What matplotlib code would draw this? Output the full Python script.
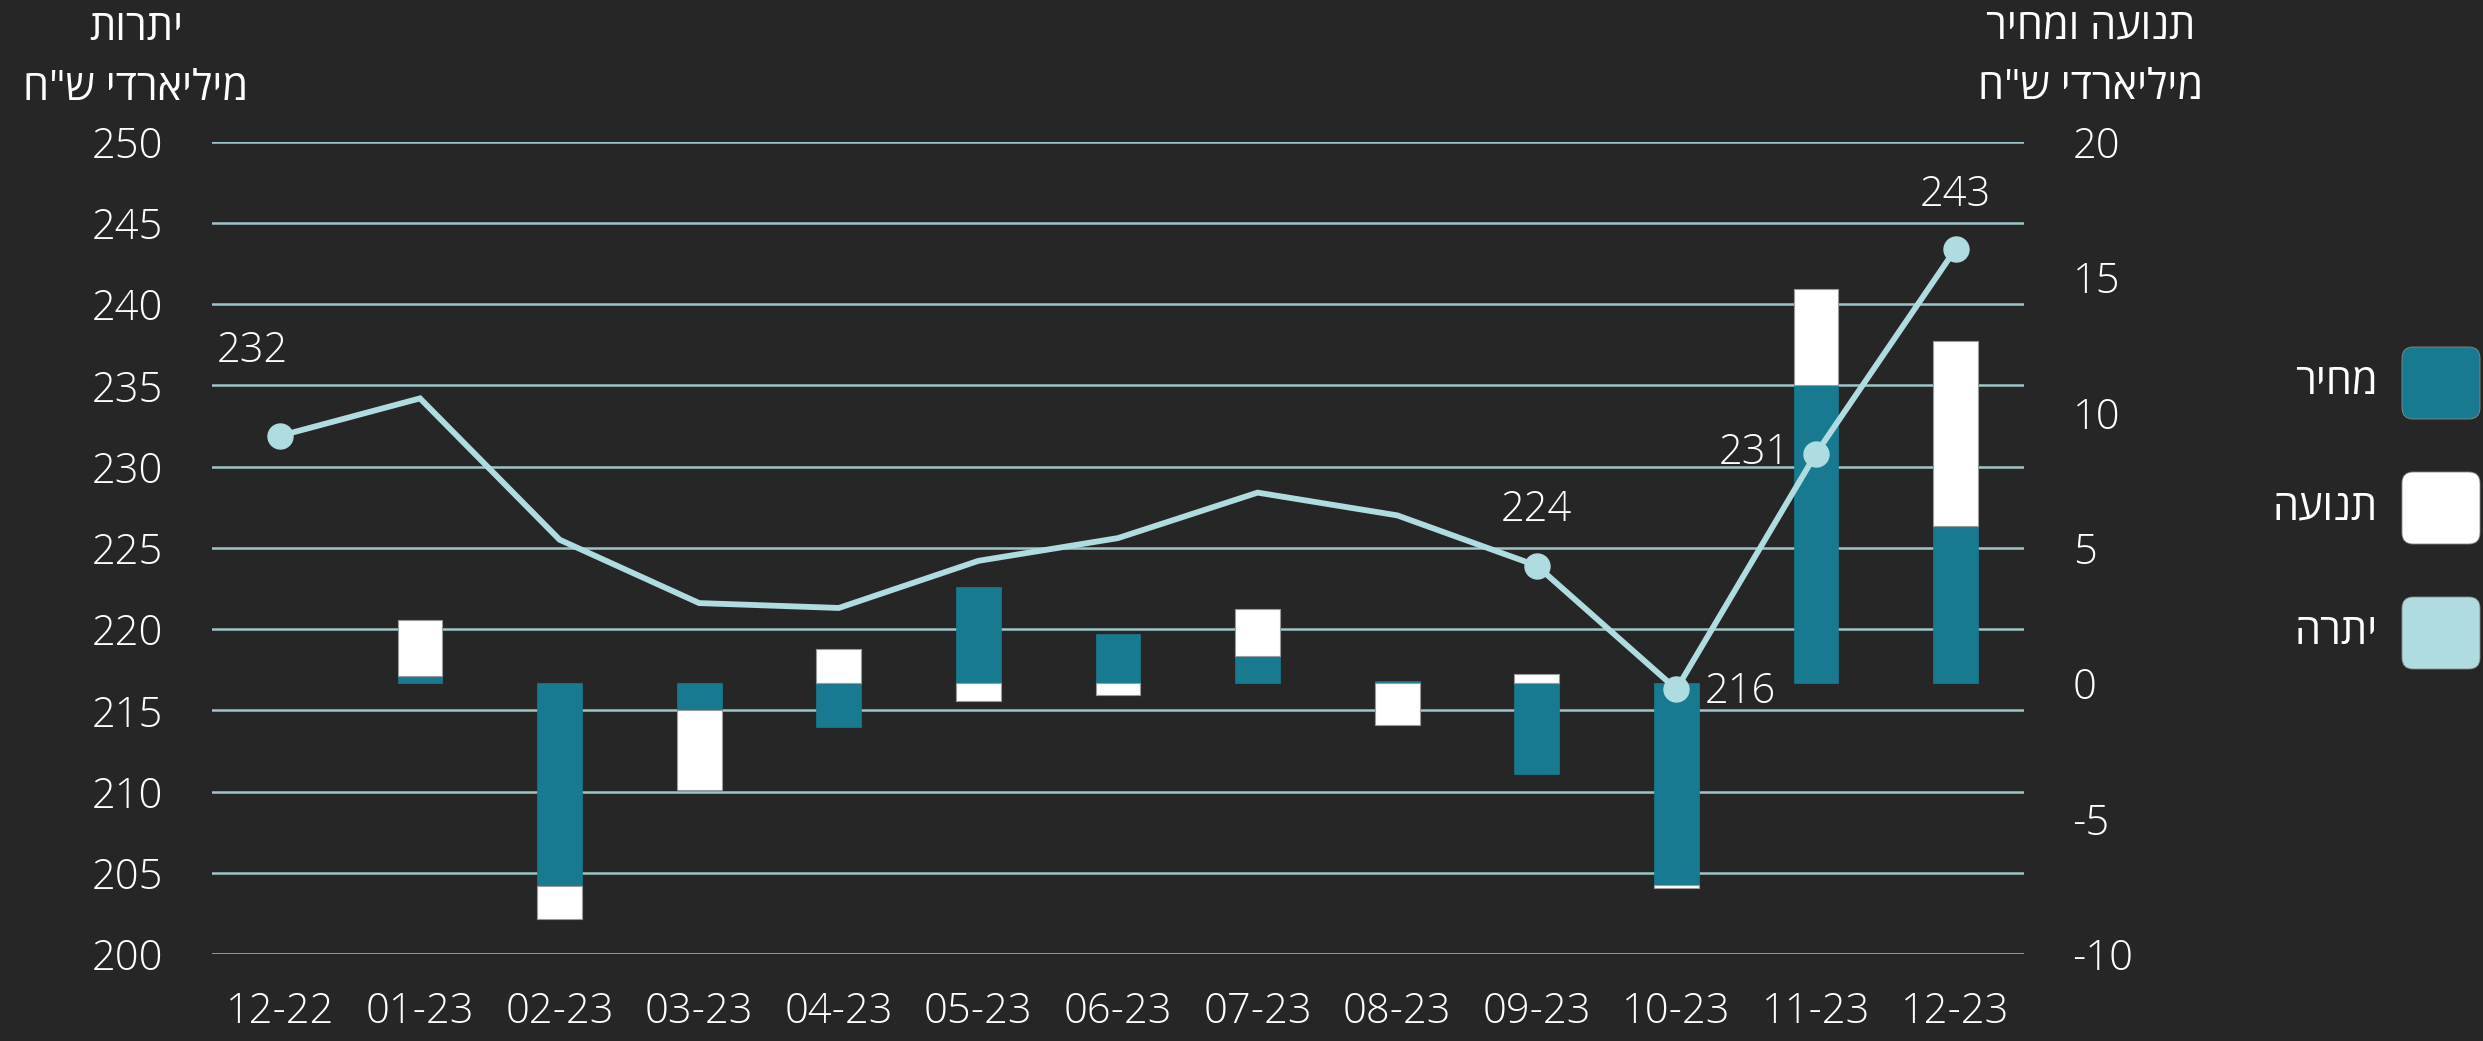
"""יתרות, תנועה ומחיר - גרף חודשי 12-22 עד 12-23."""

import matplotlib
import numpy as np

matplotlib.use("Agg")
import matplotlib.pyplot as plt  # noqa: E402
from matplotlib.patches import FancyBboxPatch  # noqa: E402

# --- data (billion NIS) ---
months = ["12-22", "01-23", "02-23", "03-23", "04-23", "05-23", "06-23",
          "07-23", "08-23", "09-23", "10-23", "11-23", "12-23"]
balance = [231.9, 234.2, 225.5, 221.6, 221.3, 224.2, 225.6,
           228.4, 227.0, 223.9, 216.3, 230.8, 243.4]
# first month has no change bar
price = [np.nan, 0.25, -7.5, -1.0, -1.6, 3.55, 1.8,
         1.0, 0.07, -3.37, -7.44, 11.0, 5.8]
movement = [np.nan, 2.1, -1.2, -2.95, 1.25, -0.65, -0.42,
            1.75, -1.53, 0.34, -0.13, 3.55, 6.85]
labeled = [0, 9, 10, 11, 12]

left_title = ["יתרות", 'מיליארדי ש"ח']
right_title = ["תנועה ומחיר", 'מיליארדי ש"ח']
legend_names = ["מחיר", "תנועה", "יתרה"]

# --- style ---
BG = "#262626"
TEAL = "#177a90"
WHITE = "#ffffff"
LIGHT = "#afdce0"
GRID = "#9ec5c9"
FONT = ["Open Sans", "DejaVu Sans"]
FS = 30

# label offsets in pixels (dx, dy) relative to the point
LABEL_OFFSETS = {0: (-28, 85), 9: (0, 56), 10: (64, -3), 11: (-62, 1), 12: (0, 54)}

plt.rcParams["font.family"] = FONT
plt.rcParams["axes.unicode_minus"] = False


def rtl(s: str) -> str:
    # matplotlib draws left-to-right; reverse Hebrew for visual order
    return s[::-1]


fig = plt.figure(figsize=(24.83, 10.41), dpi=100, facecolor=BG)
ax = fig.add_axes([212 / 2483, 87 / 1041, (2024 - 212) / 2483, (954 - 141.7) / 1041])
ax.set_facecolor(BG)
ax2 = ax.twinx()
ax2.patch.set_visible(False)

x = np.arange(len(months))
p = np.array(price)
m = np.array(movement)
same_sign = np.sign(p) == np.sign(m)
m_bottom = np.where(same_sign, p, 0.0)

ax.set_ylim(200, 250)
ax2.set_ylim(-10, 20)
ax.set_xlim(-0.49, len(months) - 0.51)

ax.set_yticks(np.arange(200, 251, 5))
ax2.set_yticks(np.arange(-10, 21, 5))
ax.grid(axis="y", color=GRID, linewidth=1.8)
ax.set_axisbelow(True)

bw = 0.32
ax2.bar(x[1:], p[1:], width=bw, color=TEAL, edgecolor=TEAL, linewidth=0.5, zorder=2)
ax2.bar(x[1:], m[1:], bottom=m_bottom[1:], width=bw, color=WHITE,
        edgecolor="#9a9a9a", linewidth=0.8, zorder=2)

# balance line on the left scale, drawn above the bars
ax2.plot(x, balance, color=LIGHT, linewidth=4.2, transform=ax.transData, zorder=3,
         solid_joinstyle="miter")
ax2.plot(x[labeled], np.array(balance)[labeled], "o", color=LIGHT, markersize=18,
         transform=ax.transData, zorder=4)
for i in labeled:
    dx, dy = LABEL_OFFSETS[i]
    ax2.annotate(f"{balance[i]:.0f}", xy=(x[i], balance[i]), xycoords=ax.transData,
                 xytext=(dx, dy), textcoords="offset pixels", ha="center", va="center",
                 color="white", fontsize=FS, fontweight="light", zorder=5)

ax.set_xticks(x)
ax.set_xticklabels(months)
for a in (ax, ax2):
    for s in a.spines.values():
        s.set_visible(False)
    a.tick_params(length=0, colors="white", labelsize=FS)
    for t in a.get_xticklabels() + a.get_yticklabels():
        t.set_fontweight("light")
ax.tick_params(axis="y", pad=35)
ax2.tick_params(axis="y", pad=35)
ax.tick_params(axis="x", pad=26)

# axis titles (regular weight: the light face has no Hebrew)
for k, line in enumerate(left_title):
    fig.text(136 / 2483, 1 - (29 + 60 * k) / 1041, rtl(line), ha="center", va="center",
             color="white", fontsize=FS)
for k, line in enumerate(right_title):
    fig.text(2091 / 2483, 1 - (27 + 61 * k) / 1041, rtl(line), ha="center", va="center",
             color="white", fontsize=FS)

# legend: rounded squares with labels on their left
H = 10.41
for k, (name, col) in enumerate(zip(legend_names, [TEAL, WHITE, LIGHT])):
    cy = (383 + 125 * k) / 100
    box = FancyBboxPatch((24.02, H - cy - 0.36), 0.78, 0.72,
                         boxstyle="round,pad=0,rounding_size=0.11",
                         transform=fig.dpi_scale_trans, facecolor=col,
                         edgecolor="#8a8a8a", linewidth=0.6)
    fig.patches.append(box)
    fig.text(23.78 / 24.83, 1 - cy / H, rtl(name), ha="right", va="center",
             color="white", fontsize=FS)

fig.savefig("out.png", dpi=100, facecolor=BG)
